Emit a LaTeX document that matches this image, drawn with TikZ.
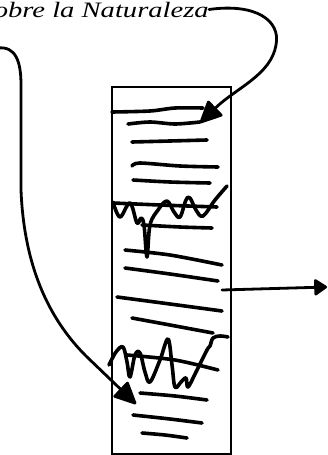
\documentclass[tikz,border=0pt]{standalone}
\usepackage{fontspec}
\setmainfont{Liberation Serif}
\newfontfamily\rotulo{Liberation Serif}[FakeStretch=1.3]
\usetikzlibrary{arrows.meta}

\begin{document}
\begin{tikzpicture}[x=1pt,y=-1pt,
    trazo/.style={line width=2.8pt, line cap=round, line join=round},
    raya/.style={line width=3.6pt, line cap=round, line join=round},
    flecha/.style={trazo, -{Triangle[length=24pt,width=22pt,round]}}]
    \useasboundingbox (0,0) rectangle (327,455);
    \clip (0,0) rectangle (327,455);
    \node[anchor=base east, inner sep=0pt, font=\rotulo\itshape\fontsize{22}{26}\selectfont] (titulo) at (209,17) {obre la Naturaleza};
    \node[draw, line width=2.8pt, minimum width=119pt, minimum height=367pt, inner sep=0pt] (hoja) at (171.5,270.5) {};
    \coordinate (inicio) at (-2,48);
    \coordinate (puntaA) at (200,123);
    \coordinate (puntaB) at (136,404);
    \coordinate (salida) at (222,290);
    \coordinate (fin) at (327,287);
    % flechas
    \draw[flecha] (titulo.east) .. controls (255,3) and (281,20) .. (276,45) .. controls (271,75) and (236,88) .. (puntaA);
    \draw[flecha] (inicio) .. controls (16,46) and (21,62) .. (21,85) -- (21,190) .. controls (24,265) and (48,318) .. (86,356) -- (puntaB);
    \draw[flecha, -{Triangle[length=14pt,width=18pt,round]}] (salida) -- (fin);
    % renglones
    \draw[raya] plot[smooth] coordinates {(112,112) (150,111) (175,108) (203,108)};
    \draw[raya] plot[smooth] coordinates {(128,124) (150,122) (175,124) (200,122)};
    \draw[raya] plot[smooth] coordinates {(132,142) (170,141) (207,140)};
    \draw[raya] plot[smooth] coordinates {(132,166) (140,163) (180,166) (218,167)};
    \draw[raya] plot[smooth] coordinates {(133,180) (170,182) (210,183)};
    \draw[raya] plot[smooth] coordinates {(113,203) (160,205) (217,207)};
    \draw[raya] plot[smooth] coordinates {(142,225) (180,227) (212,228)};
    \draw[raya] plot[smooth] coordinates {(125,250) (170,255) (222,265)};
    \draw[raya] plot[smooth] coordinates {(125,268) (170,274) (218,281)};
    \draw[raya] plot[smooth] coordinates {(117,297) (170,304) (222,311)};
    \draw[raya] plot[smooth] coordinates {(132,318) (170,325) (213,333)};
    \draw[raya] plot[smooth] coordinates {(127,355) (175,360) (218,370)};
    \draw[raya] plot[smooth] coordinates {(140,393) (175,396) (207,400)};
    \draw[raya] plot[smooth] coordinates {(133,415) (170,419) (202,423)};
    \draw[raya] plot[smooth] coordinates {(142,433) (165,435) (187,438)};
    % garabatos
    \draw[raya] plot[smooth, tension=0.6] coordinates {(113,202) (120,217) (130,203) (137,223) (141,218) (144,225) (147,257) (150,225) (158,210) (167,201) (174,212) (180,217) (186,200) (190,198) (196,210) (203,216) (215,200) (227,186)};
    \draw[raya] plot[smooth, tension=0.6] coordinates {(109,365) (116,352) (123,347) (127,362) (130,377) (135,355) (140,353) (145,372) (150,382) (160,360) (168,339) (172,365) (175,387) (181,382) (186,378) (188,387) (196,372) (207,350) (210,346) (213,338) (220,336) (228,337)};
\end{tikzpicture}
\end{document}
